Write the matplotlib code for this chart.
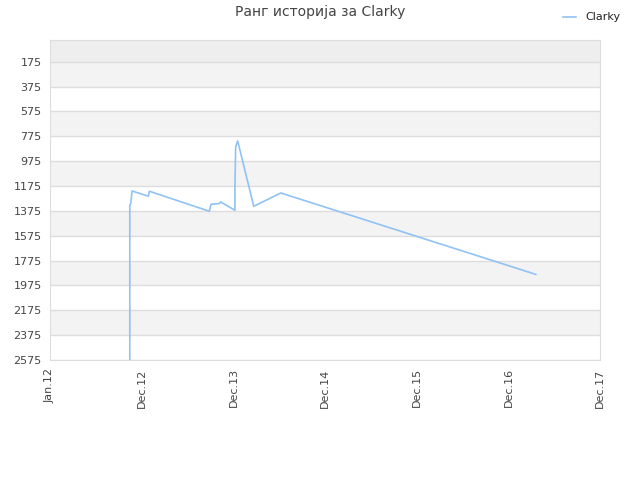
import matplotlib
matplotlib.use("Agg")
import matplotlib.pyplot as plt
import matplotlib.dates as mdates
import pandas as pd

dates = ["2012-11-14", "2012-11-14", "2012-11-14", "2012-11-18", "2012-11-23",
         "2013-01-27", "2013-01-31", "2013-09-27", "2013-10-04", "2013-11-06",
         "2013-11-11", "2014-01-07", "2014-01-07", "2014-01-10", "2014-01-18",
         "2014-03-23", "2014-07-09", "2017-04-20"]
ranks = [2700, 1451, 1330, 1316, 1215,
         1257, 1217, 1378, 1322, 1316,
         1303, 1370, 1185, 860, 812,
         1338, 1231, 1886]
ytick_vals = [175, 375, 575, 775, 975, 1175, 1375, 1575, 1775, 1975, 2175, 2375, 2575]
xtick_dates = ["2012-01-01", "2013-01-01", "2014-01-01", "2015-01-01", "2016-01-01", "2017-01-01", "2018-01-01"]
xtick_labels = ["Jan.12", "Dec.12", "Dec.13", "Dec.14", "Dec.15", "Dec.16", "Dec.17"]

fig = plt.figure(figsize=(6.4, 4.8), dpi=100)
ax = fig.add_axes([50/640, 120/480, 550/640, 320/480])

x = pd.to_datetime(dates)
ax.set_ylim(2575, 0)
ax.set_xlim(pd.Timestamp(xtick_dates[0]), pd.Timestamp(xtick_dates[-1]))

# bands
ax.axhspan(0, ytick_vals[0], color="#eeeeee", zorder=0, lw=0)
for i in range(len(ytick_vals) - 1):
    c = "#f3f3f3" if i % 2 == 0 else "#ffffff"
    ax.axhspan(ytick_vals[i], ytick_vals[i + 1], color=c, zorder=0, lw=0)
for v in ytick_vals:
    ax.axhline(v, color="#dddddd", lw=1, zorder=1)

ax.plot(x, ranks, color="#90c2f4", lw=1.2, zorder=3, label="Clarky")

ax.set_yticks(ytick_vals)
ax.set_yticklabels([str(v) for v in ytick_vals])
ax.set_xticks(pd.to_datetime(xtick_dates))
ax.set_xticklabels(xtick_labels, rotation=90)
ax.tick_params(axis="both", labelsize=8, colors="#444444", length=0, pad=6)
for s in ax.spines.values():
    s.set_color("#dddddd")

fig.text(0.5, 1 - 12/480, "Ранг историја за Clarky", ha="center", va="center",
         fontsize=10, color="#444444")
leg = fig.legend(loc="upper right", bbox_to_anchor=(0.985, 0.995), frameon=False,
                 fontsize=8, handlelength=1.2, handletextpad=0.8)
for t in leg.get_texts():
    t.set_color("#222222")

fig.savefig("out.png", dpi=100)
